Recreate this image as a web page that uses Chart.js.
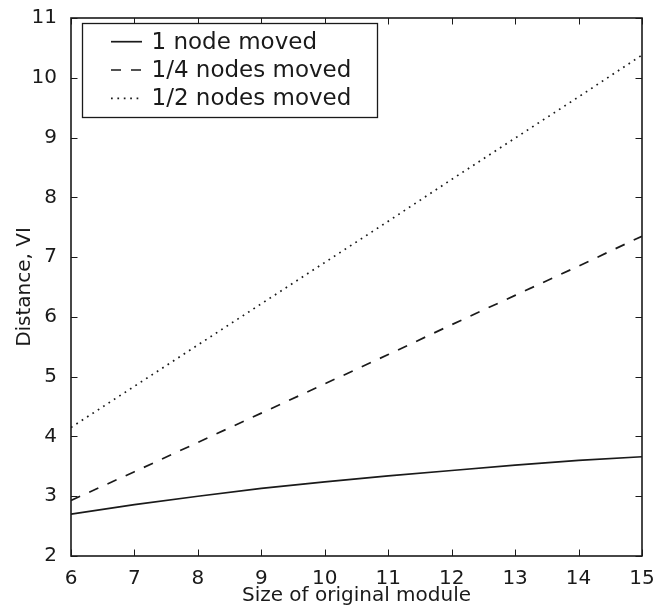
<!DOCTYPE html>
<html>
<head>
<meta charset="utf-8">
<script src="https://cdn.jsdelivr.net/npm/chart.js@4/dist/chart.umd.min.js"></script>
<style>
  html, body { margin: 0; padding: 0; background: #fff; }
  #wrap { width: 669px; height: 608px; }
</style>
</head>
<body>
<div id="wrap"><canvas id="chart" width="669" height="608"></canvas></div>
<script>
var moduleSize = [6, 7, 8, 9, 10, 11, 12, 13, 14, 15];
var oneNode     = [2.70, 2.86, 3.00, 3.13, 3.24, 3.34, 3.43, 3.52, 3.60, 3.66];
var quarterNodes = [2.93, 3.41, 3.90, 4.39, 4.88, 5.37, 5.87, 6.36, 6.85, 7.35];
var halfNodes   = [4.15, 4.84, 5.53, 6.22, 6.91, 7.60, 8.30, 8.99, 9.68, 10.38];
var seriesNames = ['1 node moved', '1/4 nodes moved', '1/2 nodes moved'];
var yTicks = [2, 3, 4, 5, 6, 7, 8, 9, 10, 11];

var ink = '#1a1a1a';
var fontFam = '"DejaVu Sans", sans-serif';

function pts(ys) {
  return moduleSize.map(function (x, i) { return { x: x, y: ys[i] }; });
}

// frame, inside ticks on all four sides, boxed legend
var framePlugin = {
  id: 'frame',
  afterDraw: function (chart) {
    var c = chart.ctx, a = chart.chartArea;
    var xs = chart.scales.x, ys = chart.scales.y;
    var tl = 6.5;
    c.save();
    c.strokeStyle = ink;
    c.lineWidth = 1;
    moduleSize.forEach(function (v) {
      var px = Math.round(xs.getPixelForValue(v)) + 0.5;
      c.beginPath();
      c.moveTo(px, a.bottom); c.lineTo(px, a.bottom - tl);
      c.moveTo(px, a.top); c.lineTo(px, a.top + tl);
      c.stroke();
    });
    yTicks.forEach(function (v) {
      var py = Math.round(ys.getPixelForValue(v)) + 0.5;
      c.beginPath();
      c.moveTo(a.left, py); c.lineTo(a.left + tl, py);
      c.moveTo(a.right, py); c.lineTo(a.right - tl, py);
      c.stroke();
    });
    c.lineWidth = 1.6;
    c.strokeRect(a.left, a.top, a.right - a.left, a.bottom - a.top);

    // legend
    var lx = 82.5, ly = 23.5, lw = 295, lh = 94;
    c.fillStyle = '#fff';
    c.fillRect(lx, ly, lw, lh);
    c.lineWidth = 1.3;
    c.strokeRect(lx, ly, lw, lh);
    c.font = '23px ' + fontFam;
    c.textBaseline = 'middle';
    c.textAlign = 'left';
    chart.data.datasets.forEach(function (ds, i) {
      var y = 41.7 + i * 28.3;
      c.save();
      c.strokeStyle = ds.borderColor;
      c.lineWidth = ds.borderWidth;
      c.setLineDash(ds.borderDash || []);
      c.beginPath();
      c.moveTo(111, y); c.lineTo(142, y);
      c.stroke();
      c.restore();
      c.fillStyle = ink;
      c.fillText(ds.label, 151.5, y + 1);
    });
    c.restore();
  }
};

new Chart(document.getElementById('chart'), {
  type: 'line',
  data: {
    datasets: [
      { label: seriesNames[0], data: pts(oneNode), borderColor: ink, borderWidth: 1.7, borderDash: [] },
      { label: seriesNames[1], data: pts(quarterNodes), borderColor: ink, borderWidth: 1.7, borderDash: [10, 10] },
      { label: seriesNames[2], data: pts(halfNodes), borderColor: ink, borderWidth: 1.7, borderDash: [1.7, 4.7] }
    ]
  },
  options: {
    responsive: false,
    animation: false,
    layout: { padding: { top: 13, right: 27, left: 0, bottom: 0 } },
    elements: { point: { radius: 0 }, line: { tension: 0, fill: false } },
    plugins: { legend: { display: false }, tooltip: { enabled: false } },
    scales: {
      x: {
        type: 'linear', min: 6, max: 15,
        grid: { display: false }, border: { display: false },
        ticks: { stepSize: 1, padding: 3, color: ink, font: { family: fontFam, size: 20 }, maxRotation: 0 },
        title: { display: true, text: 'Size of original module', color: ink,
                 font: { family: fontFam, size: 20 }, padding: { top: 0, bottom: 0 } },
        afterFit: function (s) { s.height = 52; }
      },
      y: {
        min: 2, max: 11,
        grid: { display: false }, border: { display: false },
        ticks: { stepSize: 1, padding: 6, color: ink, font: { family: fontFam, size: 20 } },
        title: { display: true, text: 'Distance, VI', color: ink,
                 font: { family: fontFam, size: 20 }, padding: { top: 13, bottom: 0 } },
        afterFit: function (s) { s.width = 71; }
      }
    }
  },
  plugins: [framePlugin]
});
</script>
</body>
</html>
